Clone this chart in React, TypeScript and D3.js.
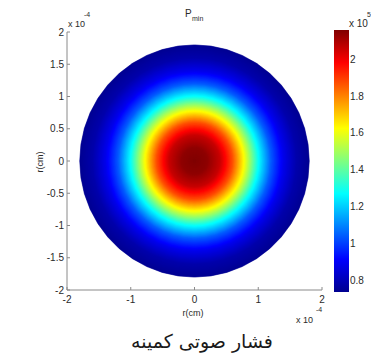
import { useRef, useEffect } from 'react';
import * as d3 from 'd3';

// radial profile of minimum acoustic pressure (r in 1e-4 cm, p in 1e5)
const radii = [0, 0.2, 0.4, 0.6, 0.8, 1.0, 1.2, 1.4, 1.6, 1.8];
const pmin = [2.16, 2.14, 2.06, 1.87, 1.59, 1.28, 1.04, 0.88, 0.78, 0.74];

const axisTicks = [-2, -1.5, -1, -0.5, 0, 0.5, 1, 1.5, 2];
const xTicks = [-2, -1, 0, 1, 2];
const cbarTicks = [0.8, 1, 1.2, 1.4, 1.6, 1.8, 2];
const cbarRange = [0.735, 2.16];

// MATLAB jet stops
const jetPos = [0, 0.125, 0.375, 0.625, 0.875, 1];
const jetColors = ['#00008f', '#0000ff', '#00ffff', '#ffff00', '#ff0000', '#800000'];

const W = 371;
const H = 360;
const FONT = '"Liberation Sans", Arial, sans-serif';

export default function App() {
  const svgRef = useRef<SVGSVGElement>(null);

  useEffect(() => {
    const svg = d3.select(svgRef.current);
    svg.selectAll('*').remove();

    const x = d3.scaleLinear().domain([-2, 2]).range([67, 322]);
    const y = d3.scaleLinear().domain([-2, 2]).range([290, 32]);
    const jet = d3.scaleLinear<string>().domain(jetPos).range(jetColors).interpolate(d3.interpolateRgb);
    const norm = d3.scaleLinear().domain(cbarRange).range([0, 1]).clamp(true);
    const profile = d3.scaleLinear().domain(radii).range(pmin);

    const defs = svg.append('defs');

    // disk: concentric faceted rings, outer to inner
    const rMax = radii[radii.length - 1];
    const angles = d3.range(0, 2 * Math.PI, (2 * Math.PI) / 44);
    const line = d3.line<[number, number]>().curve(d3.curveLinearClosed);
    const rings = d3.range(rMax, 0, -0.01);
    svg.append('g')
      .selectAll('path')
      .data(rings)
      .join('path')
      .attr('d', (r) => line(angles.map((a) => [x(r * Math.cos(a)), y(r * Math.sin(a))] as [number, number])))
      .attr('fill', (r) => jet(norm(profile(r))))
      .attr('stroke', (r) => jet(norm(profile(r))))
      .attr('stroke-width', 0.6);

    // axes (left + bottom only)
    const axisColor = '#8a8a8a';
    const textColor = '#2a2a2a';
    const g = svg.append('g').attr('font-family', FONT).attr('fill', textColor);

    g.append('line').attr('x1', x(-2)).attr('x2', x(-2)).attr('y1', y(-2)).attr('y2', y(2))
      .attr('stroke', axisColor);
    g.append('line').attr('x1', x(-2)).attr('x2', x(2)).attr('y1', y(-2)).attr('y2', y(-2))
      .attr('stroke', axisColor);

    axisTicks.forEach((t) => {
      g.append('line').attr('x1', x(-2)).attr('x2', x(-2) + 3).attr('y1', y(t)).attr('y2', y(t))
        .attr('stroke', axisColor);
      g.append('text').attr('x', x(-2) - 3).attr('y', y(t) + 3.5).attr('text-anchor', 'end')
        .attr('font-size', 10).text(String(t));
    });
    xTicks.forEach((t) => {
      g.append('line').attr('x1', x(t)).attr('x2', x(t)).attr('y1', y(-2)).attr('y2', y(-2) - 3)
        .attr('stroke', axisColor);
      g.append('text').attr('x', x(t)).attr('y', 303).attr('text-anchor', 'middle')
        .attr('font-size', 10).text(String(t));
    });

    // exponent labels
    g.append('text').attr('x', 68).attr('y', 27).attr('font-size', 9).text('x 10');
    g.append('text').attr('x', 84).attr('y', 17).attr('font-size', 7).text('-4');
    g.append('text').attr('x', 296).attr('y', 323).attr('font-size', 9).text('x 10');
    g.append('text').attr('x', 316).attr('y', 312).attr('font-size', 7).text('-4');

    // axis labels
    g.append('text').attr('x', 193).attr('y', 316).attr('text-anchor', 'middle')
      .attr('font-size', 9).text('r(cm)');
    g.append('text').attr('transform', `translate(43,162) rotate(-90)`).attr('text-anchor', 'middle')
      .attr('font-size', 9).text('r(cm)');

    // title P_min
    g.append('text').attr('x', 185).attr('y', 17).attr('font-size', 10).text('P');
    g.append('text').attr('x', 192).attr('y', 21).attr('font-size', 7).text('min');

    // colorbar
    const cy = d3.scaleLinear().domain(cbarRange).range([292, 30]);
    const grad = defs.append('linearGradient').attr('id', 'jet-grad')
      .attr('x1', 0).attr('x2', 0).attr('y1', 1).attr('y2', 0);
    grad.selectAll('stop')
      .data(jetPos)
      .join('stop')
      .attr('offset', (d) => d)
      .attr('stop-color', (_d, i) => jetColors[i]);
    svg.append('rect').attr('x', 334).attr('y', cy(cbarRange[1])).attr('width', 15)
      .attr('height', cy(cbarRange[0]) - cy(cbarRange[1])).attr('fill', 'url(#jet-grad)');

    cbarTicks.forEach((t) => {
      g.append('line').attr('x1', 347).attr('x2', 349).attr('y1', cy(t)).attr('y2', cy(t))
        .attr('stroke', '#444').attr('stroke-width', 0.7);
      g.append('line').attr('x1', 334).attr('x2', 336).attr('y1', cy(t)).attr('y2', cy(t))
        .attr('stroke', '#444').attr('stroke-width', 0.7);
      g.append('text').attr('x', 350).attr('y', cy(t) + 3.5).attr('font-size', 10).text(String(t));
    });
    g.append('text').attr('x', 349).attr('y', 27).attr('font-size', 10).text('x 10');
    g.append('text').attr('x', 367).attr('y', 17).attr('font-size', 7).text('5');

    // caption
    svg.append('text').attr('x', 202).attr('y', 348).attr('text-anchor', 'middle')
      .attr('font-family', '"DejaVu Sans", sans-serif').attr('font-size', 19).attr('fill', '#1a1a1a')
      .attr('direction', 'rtl')
      .text('فشار صوتی کمینه');
  }, []);

  return (
    <svg
      ref={svgRef}
      width={W}
      height={H}
      style={{ position: 'absolute', left: 0, top: 0, background: '#fff' }}
    />
  );
}
